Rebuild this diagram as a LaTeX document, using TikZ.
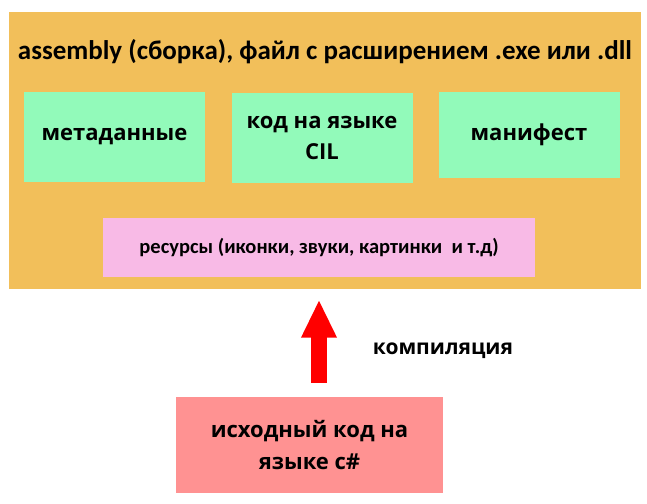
\documentclass[tikz,border=0pt]{standalone}
\usepackage{fontspec}
\setmainfont{Carlito}
\newfontfamily\boxfont{Open Sans}
\usetikzlibrary{arrows.meta}
\definecolor{asmorange}{RGB}{242,191,90}
\definecolor{partgreen}{RGB}{146,250,186}
\definecolor{respink}{RGB}{248,186,230}
\definecolor{srcred}{RGB}{255,146,146}
\begin{document}
\begin{tikzpicture}[x=1pt,y=-1pt,
asmblock/.style={fill=asmorange,rectangle,inner sep=0pt,minimum width=632pt,minimum height=276pt},
partblock/.style={fill=partgreen,rectangle,inner sep=0pt,minimum width=181pt,minimum height=90pt,align=center,font=\boxfont\bfseries\fontsize{22}{31}\selectfont},
resblock/.style={fill=respink,rectangle,inner sep=0pt,minimum width=432pt,minimum height=59pt,font=\bfseries\fontsize{20.5}{25}\selectfont},
srcblock/.style={fill=srcred,rectangle,inner sep=0pt,minimum width=267pt,minimum height=96pt,align=center,font=\boxfont\bfseries\fontsize{22}{32}\selectfont}]

\useasboundingbox (0,0) rectangle (647,503);

\draw (325,150.5) node[asmblock] (asm) {};
\draw (325,52) node[font=\bfseries\fontsize{27}{32}\selectfont] (title) {assembly (сборка), файл с расширением .exe или .dll};

\draw (114.5,137) node[partblock] (meta) {метаданные};
\draw (322,137.5) node[partblock] (cil) {код на языке\\CIL};
\draw (529,135) node[partblock,minimum height=86pt] (mani) {манифест};

\draw (319,247.5) node[resblock] (res) {ресурсы (иконки, звуки, картинки\ \ и т.д)};

\draw (309.5,445) node[srcblock] (src) {исходный код на\\языке c\#};

%\draw (319,300) node {};

\draw[red,line width=16pt,-{Triangle[length=38pt,width=33pt]},shorten <=14pt,shorten >=11pt] (src.north -| res.south) -- (asm.south -| res.south);
\draw (443,351) node[font=\boxfont\bfseries\fontsize{21}{25}\selectfont] (comp) {компиляция};
\end{tikzpicture}
\end{document}
